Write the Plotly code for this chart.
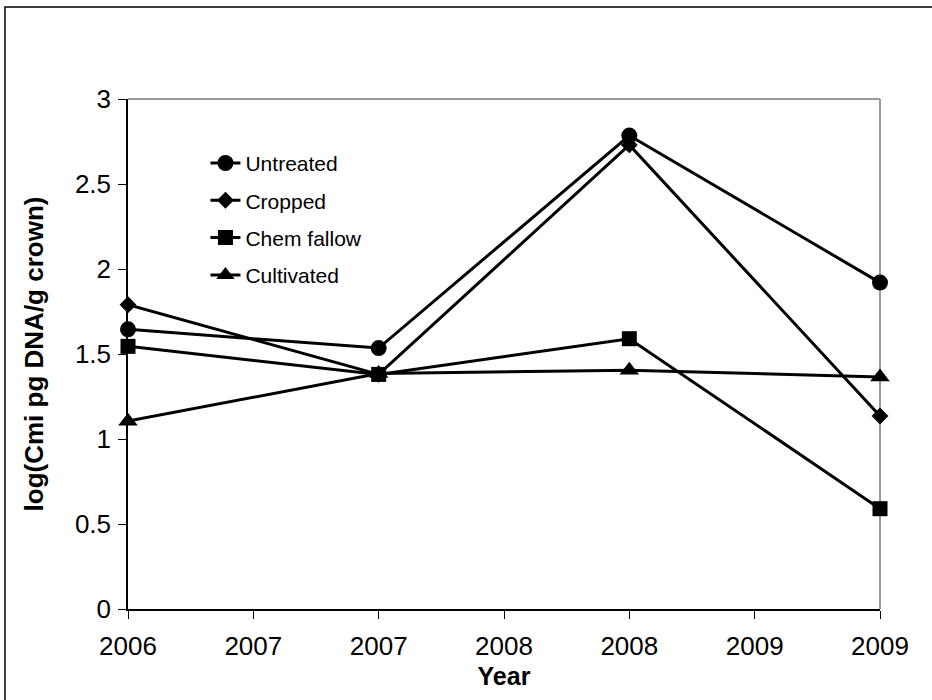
import plotly.graph_objects as go

years = [2006, 2007, 2008, 2009]
untreated = [1.645, 1.535, 2.785, 1.92]
cropped = [1.79, 1.38, 2.73, 1.135]
chem_fallow = [1.545, 1.38, 1.59, 0.59]
cultivated = [1.105, 1.385, 1.405, 1.365]

series_names = ["Untreated", "Cropped", "Chem fallow", "Cultivated"]
series_values = [untreated, cropped, chem_fallow, cultivated]
symbols = ["circle", "diamond", "square", "triangle-up"]
sizes = [16, 13, 15, 17]

x_tickvals = [2006, 2006.5, 2007, 2007.5, 2008, 2008.5, 2009]
x_ticktext = ["2006", "2007", "2007", "2008", "2008", "2009", "2009"]
y_tickvals = [0, 0.5, 1, 1.5, 2, 2.5, 3]
y_ticktext = ["0", "0.5", "1", "1.5", "2", "2.5", "3"]

FONT = "Liberation Sans, Arial, sans-serif"

fig = go.Figure()
for i, (name, vals, sym, sz) in enumerate(zip(series_names, series_values, symbols, sizes)):
    fig.add_trace(go.Scatter(
        x=years, y=vals, name=name, mode="lines+markers",
        line=dict(color="black", width=3),
        marker=dict(symbol=sym, size=sz, color="black"),
        legendgroup=f"g{i}",
        cliponaxis=False,
    ))

L, R, T, B = 128, 52, 99, 91
W, H = 932, 700
pw = W - L - R
ph = H - T - B

fig.update_layout(
    width=W, height=H,
    margin=dict(l=L, r=R, t=T, b=B, autoexpand=False),
    paper_bgcolor="white", plot_bgcolor="white",
    font=dict(family=FONT, color="black"),
    showlegend=True,
    legend=dict(
        x=0.103, y=0.914, xanchor="left", yanchor="top",
        font=dict(size=21, family=FONT, color="black"),
        bgcolor="rgba(0,0,0,0)",
        tracegroupgap=7,
        traceorder="grouped",
    ),
    xaxis=dict(
        range=[2006, 2009], tickvals=x_tickvals, ticktext=x_ticktext,
        showgrid=False, zeroline=False,
        showline=True, linecolor="black", linewidth=1.5,
        ticks="outside", ticklen=8, tickcolor="black", tickwidth=1,
        ticklabelstandoff=5,
        tickfont=dict(size=26, family=FONT),
        title=dict(text="<b>Year</b>", font=dict(size=25, family=FONT), standoff=8),
        automargin=False,
    ),
    yaxis=dict(
        range=[0, 3], tickvals=y_tickvals, ticktext=y_ticktext,
        showgrid=False, zeroline=False,
        showline=True, linecolor="black", linewidth=1.5,
        ticks="outside", ticklen=8, tickcolor="black", tickwidth=1,
        ticklabelstandoff=2,
        tickfont=dict(size=26, family=FONT),
        title=dict(text="<b>log(Cmi pg DNA/g crown)</b>", font=dict(size=26, family=FONT), standoff=24),
        automargin=False,
    ),
    shapes=[
        dict(type="line", xref="paper", yref="paper", x0=0, x1=1, y0=1, y1=1,
             line=dict(color="#999999", width=2), layer="below"),
        dict(type="line", xref="paper", yref="paper", x0=1, x1=1, y0=0, y1=1,
             line=dict(color="#999999", width=2), layer="below"),
        dict(type="rect", xref="paper", yref="paper",
             x0=(5 - L) / pw, x1=(W + 10 - L) / pw,
             y0=-(H + 10 - T - ph) / ph, y1=(H - 7 - B) / ph,
             line=dict(color="black", width=1.5), fillcolor="rgba(0,0,0,0)", layer="below"),
    ],
)

fig.write_html(
    "out.html",
    config={"displayModeBar": False},
    post_script="document.body.style.margin='0';document.body.style.overflow='hidden';",
)
